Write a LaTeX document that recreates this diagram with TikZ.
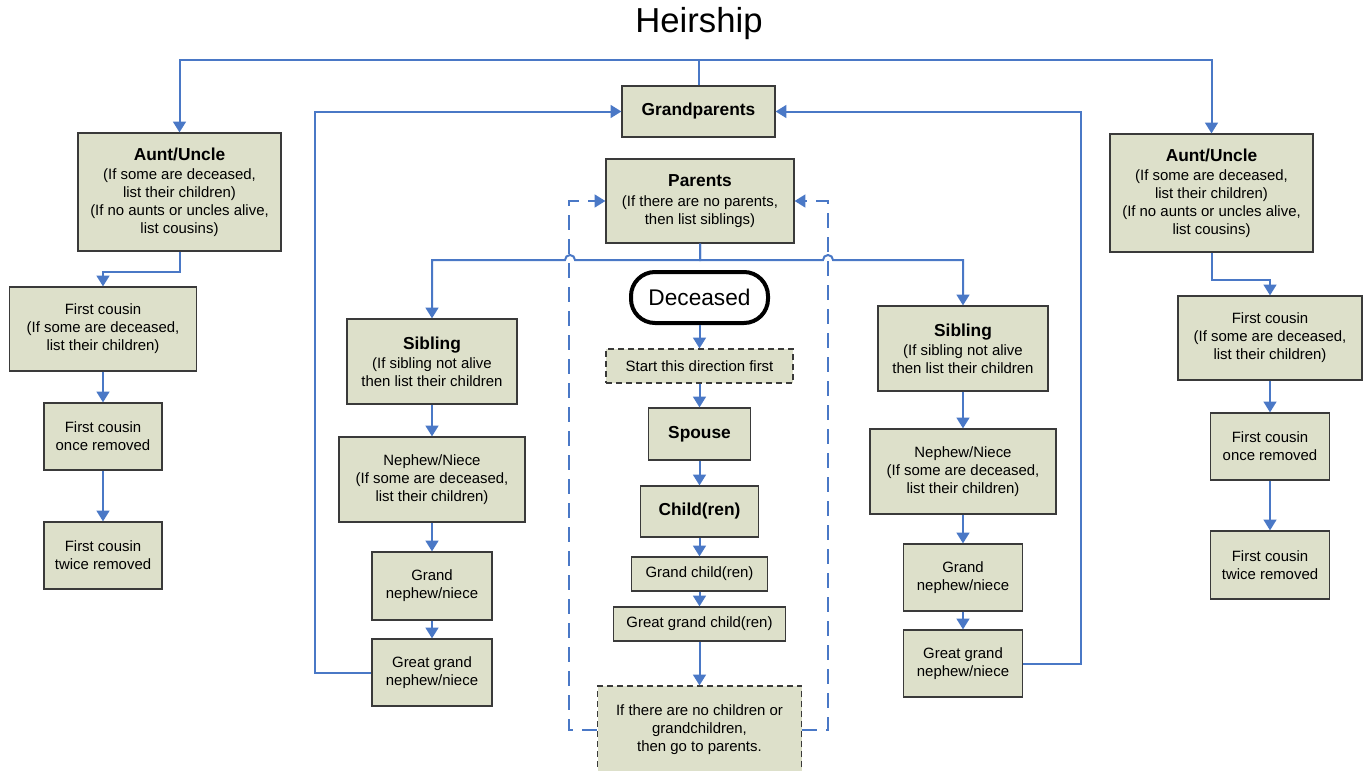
\documentclass[tikz,border=0pt]{standalone}
\usepackage{fontspec}
\setmainfont{Liberation Sans}
\usetikzlibrary{arrows.meta,calc}
\definecolor{boxfill}{HTML}{DDE0CA}
\definecolor{boxline}{HTML}{3A3A3A}
\definecolor{linkblue}{HTML}{4A78C6}
\newcommand{\boxhead}[1]{{\fontsize{13}{16}\selectfont\bfseries #1}}
\tikzset{sz/.style 2 args={minimum width=#1*0.75pt, minimum height=#2*0.75pt}}

\begin{document}
\begin{tikzpicture}[x=0.75pt, y=-0.75pt,
  box/.style  ={draw=boxline, line width=0.9pt, fill=boxfill, align=center,
                inner sep=0pt, font=\fontsize{11.2}{13.5}\selectfont},
  note/.style ={box, dash pattern=on 4.5pt off 3pt},
  decbox/.style={draw=black, line width=3pt, fill=white, rounded corners=18pt,
                inner sep=0pt, font=\fontsize{17}{20}\selectfont},
  link/.style ={linkblue, line width=1.5pt},
  go/.style   ={link, -{Triangle[length=8pt,width=9.5pt]}},
  back/.style ={go, dash pattern=on 11pt off 7pt},
]
\useasboundingbox (0,0) rectangle (1364,771);

\node[font=\fontsize{26}{30}\selectfont] (title) at (699,24) {Heirship};

% ---------------- top of the tree ----------------
\node[box, sz={153}{51}] (gp)  at (698.5,111.5) {\boxhead{Grandparents}};
\node[box, sz={188}{84}] (par) at (700,201)
  {\boxhead{Parents}\\[1pt](If there are no parents,\\then list siblings)};

% ---------------- aunts and uncles, left ----------------
\node[box, sz={203}{118}] (auL) at (179.5,192)
  {\boxhead{Aunt/Uncle}\\[1pt](If some are deceased,\\list their children)\\(If no aunts or uncles alive,\\list cousins)};
\node[box, sz={187}{84}] (fcL) at (103,329)
  {First cousin\\(If some are deceased,\\list their children)};
\node[box, sz={118}{67}] (f1L) at (103,436.5) {First cousin\\once removed};
\node[box, sz={118}{67}] (f2L) at (103,555.5) {First cousin\\twice removed};

% ---------------- aunts and uncles, right ----------------
\node[box, sz={203}{118}] (auR) at (1211.5,193)
  {\boxhead{Aunt/Uncle}\\[1pt](If some are deceased,\\list their children)\\(If no aunts or uncles alive,\\list cousins)};
\node[box, sz={184}{84}] (fcR) at (1270,338)
  {First cousin\\(If some are deceased,\\list their children)};
\node[box, sz={119}{67}] (f1R) at (1270,446.5) {First cousin\\once removed};
\node[box, sz={119}{68}] (f2R) at (1270,565) {First cousin\\twice removed};

% ---------------- siblings, left ----------------
\node[box, sz={170}{85}] (sbL) at (432,361.5)
  {\boxhead{Sibling}\\[1pt](If sibling not alive\\then list their children};
\node[box, sz={186}{85}] (neL) at (432,479.5)
  {Nephew/Niece\\(If some are deceased,\\list their children)};
\node[box, sz={120}{68}] (gnL) at (432,586) {Grand\\nephew/niece};
\node[box, sz={120}{67}] (ggL) at (432,672.5) {Great grand\\nephew/niece};

% ---------------- siblings, right ----------------
\node[box, sz={170}{85}] (sbR) at (963,348.5)
  {\boxhead{Sibling}\\[1pt](If sibling not alive\\then list their children};
\node[box, sz={186}{85}] (neR) at (963,471.5)
  {Nephew/Niece\\(If some are deceased,\\list their children)};
\node[box, sz={119}{67}] (gnR) at (963,577.5) {Grand\\nephew/niece};
\node[box, sz={119}{67}] (ggR) at (963,663.5) {Great grand\\nephew/niece};

% ---------------- descendants ----------------
\node[decbox, minimum width=102.75pt, minimum height=38.25pt] (dec) at (699.5,297.5) {Deceased};
\node[note, sz={187}{34}] (st) at (699.5,366) {Start this direction first};
\node[box, sz={102}{52}] (sp) at (699.5,434) {\boxhead{Spouse}};
\node[box, sz={118}{51}] (ch) at (699.5,511.5) {\boxhead{Child(ren)}};
\node[box, sz={136}{34}] (gc) at (699.5,574) {Grand child(ren)};
\node[box, sz={172}{34}] (gg) at (699.5,624) {Great grand child(ren)};
\node[note, sz={204}{87}] (nc) at (699.5,729.5)
  {If there are no children or\\grandchildren,\\then go to parents.};

\coordinate (hopL) at (570,260);
\coordinate (hopR) at (828,260);

% connectors
\draw[go] (gp.north) -- ++(0,-25) -| (auL.north);
\draw[go] (gp.north) -- ++(0,-25) -| (auR.north);

\draw[go] (auL.south) -- ++(0,20) -| (fcL.north);
\draw[go] (fcL) -- (f1L);
\draw[go] (f1L) -- (f2L);
\draw[go] (auR.south) -- ++(0,27) -| (fcR.north);
\draw[go] (fcR) -- (f1R);
\draw[go] (f1R) -- (f2R);

\draw[go] (par.south) |- ($(hopL)+(5,0)$) arc[start angle=0, end angle=-180, radius=5] -| (sbL.north);
\draw[go] (par.south) |- ($(hopR)+(-5,0)$) arc[start angle=180, end angle=360, radius=5] -| (sbR.north);

\draw[go] (sbL) -- (neL);
\draw[go] (neL) -- (gnL);
\draw[go] (gnL) -- (ggL);
\draw[go] (sbR) -- (neR);
\draw[go] (neR) -- (gnR);
\draw[go] (gnR) -- (ggR);

\draw[go] (ggL.west) -- ++(-56,0) |- (gp.west);
\draw[go] (ggR.east) -- ++(58,0) |- (gp.east);

\draw[go] (dec) -- (st);
\draw[go] (st) -- (sp);
\draw[go] (sp) -- (ch);
\draw[go] (ch) -- (gc);
\draw[go] (gc) -- (gg);
\draw[go] (gg) -- (nc);

\draw[back] (nc.west) -- ++(-28,0) |- (par.west);
\draw[back] (nc.east) -- ++(26,0) |- (par.east);

\end{tikzpicture}
\end{document}
